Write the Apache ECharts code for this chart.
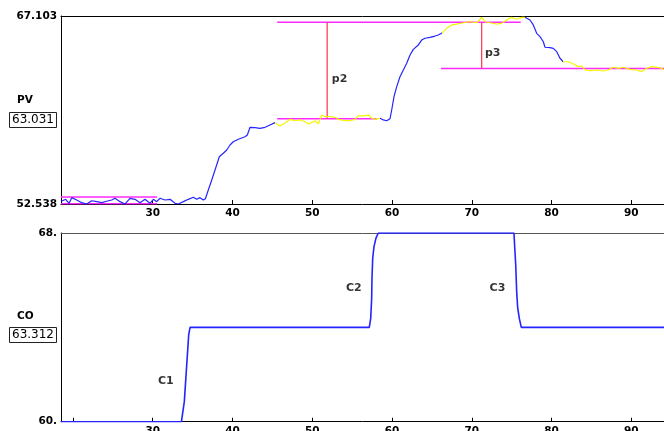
<!DOCTYPE html>
<html>
<head>
<meta charset="utf-8">
<script src="https://cdn.jsdelivr.net/npm/echarts@6.0.0/dist/echarts.min.js"></script>
<style>
  html, body { margin: 0; padding: 0; background: #ffffff; }
  #chart { width: 664px; height: 431px; }
</style>
</head>
<body>
<div id="chart"></div>
<script>
// Process variable (PV) trend: time and value
const pvTime = [
  18.55, 18.67, 19.09, 19.51, 19.85, 20.47, 21.10, 21.73, 22.35, 22.98,
  23.61, 24.23, 24.86, 25.27, 25.90, 26.53, 27.15, 27.78, 28.41, 29.03,
  29.66, 30.08, 30.50, 30.92, 31.54, 32.17, 32.80, 33.21, 33.84, 34.46,
  35.09, 35.52, 35.93, 36.34, 36.60, 36.97, 37.40, 37.81, 38.35, 38.85,
  39.28, 39.69, 40.10, 40.73, 41.57, 41.86, 42.20, 42.82, 43.45, 44.08,
  44.70, 45.33, 45.96, 46.59, 47.21, 47.84, 48.47, 49.09, 49.51, 49.93,
  50.35, 50.76, 51.19, 51.60, 52.23, 52.85, 53.27, 54.11, 54.73, 55.36,
  55.77, 56.40, 57.03, 57.45, 57.99, 58.49, 58.91, 59.33, 59.75, 59.96,
  60.25, 60.59, 61.00, 61.42, 61.84, 62.26, 62.67, 63.30, 63.72, 64.14,
  64.76, 65.39, 65.80, 66.23, 66.86, 67.48, 68.11, 68.94, 69.78, 70.62,
  71.24, 71.66, 72.28, 73.12, 73.75, 74.38, 75.00, 75.63, 76.26, 76.67,
  77.30, 77.71, 78.14, 78.55, 78.97, 79.18, 79.81, 80.22, 80.65, 81.06,
  81.47, 82.10, 82.73, 83.35, 83.78, 84.19, 84.82, 85.66, 86.49, 87.11,
  87.74, 88.37, 88.99, 89.83, 90.67, 91.30, 91.93, 92.55, 93.18, 93.81,
  94.10
];
const pvValue = [
  52.75, 52.79, 52.90, 52.59, 53.03, 52.85, 52.64, 52.54, 52.79, 52.72,
  52.64, 52.75, 52.85, 52.98, 52.72, 52.54, 52.98, 52.90, 52.64, 52.90,
  52.59, 52.90, 52.72, 52.98, 52.85, 52.90, 52.59, 52.54, 52.72, 52.90,
  53.06, 52.90, 53.03, 52.85, 52.95, 53.62, 54.40, 55.17, 56.20, 56.47,
  56.72, 57.11, 57.36, 57.55, 57.75, 57.88, 58.48, 58.45, 58.40, 58.48,
  58.66, 58.84, 58.58, 58.81, 59.10, 58.99, 59.05, 58.91, 58.74, 58.84,
  58.99, 58.74, 59.43, 59.30, 59.30, 59.26, 59.10, 58.99, 58.99, 59.10,
  59.36, 59.36, 59.43, 59.18, 59.10, 59.18, 59.05, 58.99, 59.15, 59.82,
  60.85, 61.63, 62.40, 62.92, 63.44, 64.08, 64.52, 64.86, 65.24, 65.38,
  65.45, 65.55, 65.63, 65.76, 66.15, 66.41, 66.48, 66.58, 66.66, 66.58,
  67.00, 66.66, 66.58, 66.48, 66.54, 66.79, 67.00, 66.85, 67.00, 67.00,
  66.79, 66.41, 65.76, 65.50, 65.11, 64.68, 64.65, 64.60, 64.34, 63.83,
  63.56, 63.56, 63.38, 63.18, 63.23, 62.92, 62.87, 62.92, 62.84, 62.92,
  63.13, 63.05, 63.13, 62.97, 62.92, 62.79, 63.05, 63.18, 63.13, 63.05,
  62.92
];
// Times where the PV trace switches between transient (blue) and settled (yellow)
const pvColorBreaks = [45.33, 58.49, 66.23, 76.67, 81.47];

// Controller output (CO) trend
const coTime = [18.5, 33.6, 33.96, 34.26, 34.51, 34.68,
  57.15, 57.33, 57.45, 57.49, 57.58, 57.74, 57.99, 58.28,
  75.29, 75.38, 75.51, 75.63, 75.76, 75.96, 76.21, 94.1];
const coValue = [60, 60, 60.85, 62.40, 63.68, 64,
  64, 64.38, 65.23, 66.08, 66.93, 67.42, 67.78, 68,
  68, 67.42, 66.64, 65.51, 64.81, 64.38, 64, 64];

// Axis ranges and labels
const timeRange = [18.5, 94.1];
const timeLabels = [30, 40, 50, 60, 70, 80, 90];
const coTicks = [20, 30, 40, 50, 60, 70, 80, 90];
const pvRange = [52.538, 67.103];
const coRange = [60, 68];

// Settled levels: [from time, to time, level]
const levelLines = [
  [18.5, 30.55, 53.08],
  [18.5, 30.55, 52.56],
  [45.6, 76.13, 66.615],
  [45.6, 58.07, 59.146],
  [66.13, 94.1, 63.031]
];
// Step sizes: [time, low level, high level]
const stepSpans = [
  [51.87, 59.146, 66.615],
  [71.24, 63.031, 66.615]
];
// Annotation texts: [time, level, text]
const pvNotes = [[53.42, 62.22, 'p2'], [72.62, 64.21, 'p3']];
const coNotes = [[31.64, 61.72, 'C1'], [55.21, 65.68, 'C2'], [73.22, 65.68, 'C3']];
// Readouts shown beside the axes
const pvReadout = '63.031';
const coReadout = '63.312';

const BLUE = '#2424ff';
const YELLOW = '#f4f400';
const MAGENTA = '#ff2aff';
const RED = '#ff4058';
const LABEL_FONT = 'DejaVu Sans';

function zip(a, b) { return a.map((v, i) => [v, b[i]]); }

const pieces = [];
let lo = -Infinity;
pvColorBreaks.concat([Infinity]).forEach((hi, i) => {
  const p = { color: i % 2 === 0 ? BLUE : YELLOW };
  if (lo !== -Infinity) p.gte = lo;
  if (hi !== Infinity) p.lt = hi;
  pieces.push(p);
  lo = hi;
});

function timeAxis(gridIndex, ticks) {
  return {
    type: 'value', gridIndex, min: timeRange[0], max: timeRange[1],
    axisLine: { show: true, onZero: false, lineStyle: { color: '#000', width: 1 } },
    axisTick: { show: true, inside: true, length: 4, customValues: ticks, lineStyle: { color: '#000' } },
    axisLabel: { show: true, margin: 4, customValues: timeLabels, color: '#000',
      fontFamily: LABEL_FONT, fontWeight: 'bold', fontSize: 10.5 },
    splitLine: { show: false }
  };
}
function frameAxis(gridIndex, color) {
  return {
    type: 'value', gridIndex, position: 'top', min: timeRange[0], max: timeRange[1],
    axisLine: { show: true, onZero: false, lineStyle: { color, width: 1 } },
    axisTick: { show: false }, axisLabel: { show: false }, splitLine: { show: false }
  };
}
function levelAxis(gridIndex, range, fmt) {
  return {
    type: 'value', gridIndex, min: range[0], max: range[1],
    axisLine: { show: true, onZero: false, lineStyle: { color: '#000', width: 1 } },
    axisTick: { show: false },
    axisLabel: { show: true, margin: 4, customValues: range, formatter: fmt, color: '#000',
      fontFamily: LABEL_FONT, fontWeight: 'bold', fontSize: 10.5 },
    splitLine: { show: false }
  };
}

const series = [];
series.push({
  name: 'PV', type: 'line', xAxisIndex: 0, yAxisIndex: 0,
  data: zip(pvTime, pvValue), showSymbol: false, symbol: 'none',
  lineStyle: { width: 1.2 }, z: 5
});
levelLines.forEach(([t0, t1, v]) => series.push({
  type: 'line', xAxisIndex: 0, yAxisIndex: 0, data: [[t0, v], [t1, v]],
  symbol: 'none', lineStyle: { color: MAGENTA, width: 1.6 }, z: 4
}));
stepSpans.forEach(([t, v0, v1]) => series.push({
  type: 'line', xAxisIndex: 0, yAxisIndex: 0, data: [[t, v0], [t, v1]],
  symbol: 'none', lineStyle: { color: RED, width: 1.3 }, z: 4
}));
series.push({
  name: 'CO', type: 'line', xAxisIndex: 2, yAxisIndex: 1,
  data: zip(coTime, coValue), symbol: 'none',
  lineStyle: { color: BLUE, width: 1.6 }, z: 5
});
function noteSeries(xi, yi, notes) {
  return {
    type: 'scatter', xAxisIndex: xi, yAxisIndex: yi, symbolSize: 1,
    itemStyle: { color: 'rgba(0,0,0,0)' },
    data: notes.map(([t, v, s]) => ({ value: [t, v], name: s })),
    label: { show: true, position: 'inside', formatter: '{b}', color: '#000',
      fontFamily: LABEL_FONT, fontWeight: 'bold', fontSize: 11 },
    z: 6
  };
}
series.push(noteSeries(0, 0, pvNotes));
series.push(noteSeries(2, 1, coNotes));

function readout(name, value, y, nameTop) {
  return [
    { type: 'text', left: 17, top: nameTop, style: { text: name, fill: '#000',
      font: 'bold 10.5px "' + LABEL_FONT + '"' } },
    { type: 'rect', shape: { x: 9.5, y: y - 7.5, width: 47, height: 15 },
      style: { fill: '#fff', stroke: '#222', lineWidth: 1 } },
    { type: 'text', left: 12, top: y - 6, style: { text: value, fill: '#000',
      font: '12px "' + LABEL_FONT + '"' } }
  ];
}

const chart = echarts.init(document.getElementById('chart'), null, { renderer: 'canvas' });
chart.setOption({
  animation: false,
  backgroundColor: '#ffffff',
  grid: [
    { left: 61, right: 0, top: 16, height: 188, outerBoundsMode: 'none', containLabel: false },
    { left: 61, right: 0, top: 233, height: 188.7, outerBoundsMode: 'none', containLabel: false }
  ],
  xAxis: [timeAxis(0, timeLabels), frameAxis(0, '#000'), timeAxis(1, coTicks), frameAxis(1, '#555')],
  yAxis: [
    levelAxis(0, pvRange, v => v.toFixed(3)),
    levelAxis(1, coRange, v => Math.round(v) + '.')
  ],
  visualMap: { show: false, type: 'piecewise', seriesIndex: 0, dimension: 0, pieces },
  series,
  graphic: readout('PV', pvReadout, 120, 95).concat(readout('CO', coReadout, 335, 311))
});
</script>
</body>
</html>
